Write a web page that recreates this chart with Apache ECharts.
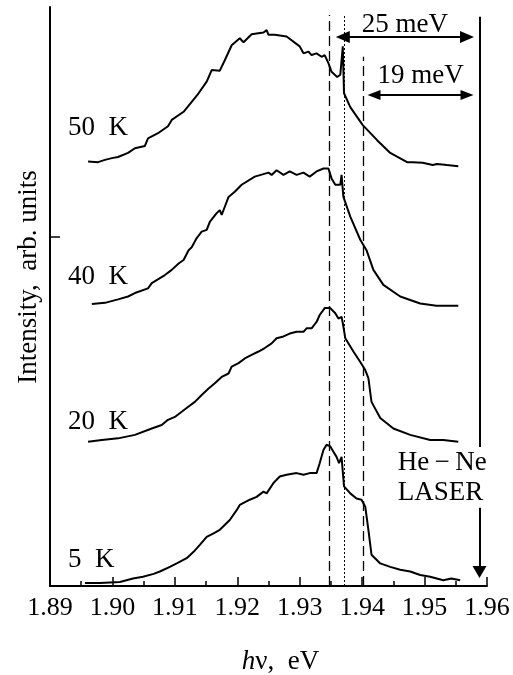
<!DOCTYPE html>
<html>
<head>
<meta charset="utf-8">
<title>PL spectra</title>
<script src="https://cdn.jsdelivr.net/npm/echarts@6/dist/echarts.min.js"></script>
<style>
  html, body { margin: 0; padding: 0; background: #fff; }
  #chart { width: 513px; height: 675px; }
</style>
</head>
<body>
<div id="chart"></div>
<script>
// photon energy (eV), intensity (arb. units, spectra shifted up for clarity)
const spec50K = [
  [1.8961, 73.3], [1.8977, 73.2], [1.8988, 73.6], [1.8999, 73.9], [1.9009, 74.1],
  [1.9025, 74.8], [1.9036, 75.6], [1.9052, 76.0], [1.9057, 77.3], [1.9073, 78.2],
  [1.9089, 79.4], [1.9095, 80.5], [1.9114, 81.9], [1.9127, 83.6], [1.9138, 85.1],
  [1.9151, 87.1], [1.9159, 89.1], [1.9172, 89.0], [1.9180, 90.8], [1.9191, 93.4],
  [1.9204, 94.6], [1.9210, 93.9], [1.9223, 95.3], [1.9242, 95.6], [1.9247, 96.0],
  [1.9250, 95.2], [1.9260, 95.2], [1.9279, 94.9], [1.9300, 93.2], [1.9306, 92.0],
  [1.9314, 92.3], [1.9319, 91.7], [1.9327, 92.0], [1.9335, 91.4], [1.9340, 91.7],
  [1.9346, 90.3], [1.9351, 88.8], [1.9360, 87.9], [1.9365, 88.3], [1.9369, 93.2],
  [1.9371, 85.1], [1.9381, 82.7], [1.9401, 79.6], [1.9424, 77.0], [1.9445, 74.8],
  [1.9472, 73.2], [1.9481, 73.2], [1.9497, 73.1], [1.9513, 72.7], [1.9520, 72.9],
  [1.9536, 72.7], [1.9554, 72.5]
];
const spec40K = [
  [1.8967, 48.7], [1.8988, 48.9], [1.9009, 49.5], [1.9025, 50.0], [1.9036, 50.6],
  [1.9057, 51.4], [1.9063, 52.3], [1.9084, 53.7], [1.9095, 54.6], [1.9106, 55.7],
  [1.9114, 56.3], [1.9122, 58.0], [1.9127, 58.5], [1.9135, 60.1], [1.9143, 61.2],
  [1.9151, 61.5], [1.9156, 62.9], [1.9167, 64.4], [1.9172, 64.9], [1.9175, 64.1],
  [1.9180, 65.5], [1.9186, 67.2], [1.9196, 68.1], [1.9207, 69.3], [1.9228, 70.7],
  [1.9250, 71.4], [1.9255, 71.0], [1.9263, 71.8], [1.9274, 71.0], [1.9284, 71.6],
  [1.9295, 71.0], [1.9306, 71.4], [1.9316, 70.7], [1.9327, 71.6], [1.9338, 72.1],
  [1.9346, 72.1], [1.9351, 70.4], [1.9357, 69.3], [1.9365, 69.3], [1.9367, 71.0],
  [1.9370, 67.2], [1.9381, 63.8], [1.9397, 59.8], [1.9407, 58.0], [1.9418, 54.6],
  [1.9434, 52.0], [1.9461, 50.0], [1.9493, 48.8], [1.9519, 48.4], [1.9554, 48.4]
];
const spec20K = [
  [1.8961, 24.9], [1.8983, 25.2], [1.9009, 25.5], [1.9036, 26.1], [1.9063, 27.2],
  [1.9079, 27.8], [1.9089, 28.7], [1.9100, 29.2], [1.9111, 30.1], [1.9122, 31.0],
  [1.9132, 31.8], [1.9143, 33.0], [1.9154, 34.1], [1.9164, 35.0], [1.9175, 36.1],
  [1.9186, 36.7], [1.9191, 37.9], [1.9202, 38.5], [1.9212, 39.3], [1.9223, 39.9],
  [1.9234, 40.5], [1.9244, 41.1], [1.9255, 41.9], [1.9263, 42.8], [1.9274, 43.1],
  [1.9284, 43.6], [1.9295, 43.9], [1.9306, 43.9], [1.9311, 44.5], [1.9319, 44.5],
  [1.9327, 45.6], [1.9332, 46.8], [1.9340, 48.0], [1.9349, 48.0], [1.9357, 47.1],
  [1.9362, 46.2], [1.9367, 46.5], [1.9369, 45.4], [1.9373, 42.8], [1.9386, 40.5],
  [1.9397, 38.7], [1.9405, 37.3], [1.9410, 35.9], [1.9415, 31.8], [1.9429, 29.0],
  [1.9450, 27.2], [1.9477, 26.1], [1.9509, 25.2], [1.9530, 25.2], [1.9554, 24.9]
];
const spec5K = [
  [1.8956, 0.5], [1.8980, 0.5], [1.9012, 0.7], [1.9033, 1.3], [1.9049, 1.6],
  [1.9066, 2.1], [1.9076, 2.5], [1.9092, 3.3], [1.9103, 3.9], [1.9119, 4.8],
  [1.9130, 5.9], [1.9140, 7.1], [1.9151, 8.5], [1.9162, 9.1], [1.9172, 9.7],
  [1.9188, 11.4], [1.9199, 13.1], [1.9204, 14.0], [1.9220, 14.9], [1.9231, 15.4],
  [1.9242, 16.3], [1.9247, 16.0], [1.9258, 17.8], [1.9268, 18.9], [1.9279, 19.2],
  [1.9295, 19.5], [1.9306, 19.2], [1.9316, 19.5], [1.9327, 19.5], [1.9332, 21.2],
  [1.9338, 23.5], [1.9343, 24.4], [1.9349, 24.1], [1.9354, 23.2], [1.9359, 22.3],
  [1.9363, 21.2], [1.9367, 22.3], [1.9371, 17.2], [1.9381, 16.0], [1.9391, 15.1],
  [1.9399, 14.9], [1.9405, 13.7], [1.9410, 9.7], [1.9415, 5.4], [1.9429, 3.9],
  [1.9445, 3.3], [1.9461, 2.8], [1.9477, 2.5], [1.9493, 1.9], [1.9509, 1.6],
  [1.9530, 1.0], [1.9543, 1.3], [1.9557, 1.0]
];

const tempLabels = ['50  K', '40  K', '20  K', '5  K'];
const dashedLines = [1.9347, 1.9402];
const dottedLine = 1.9371;
const laserEnergy = 1.9588;
const laserLabel = 'He\u2009\u2212\u2009Ne\nLASER';
const gapLabels = ['25 meV', '19 meV'];
const gapStarts = [1.9358, 1.9408];
const gapEnd = 1.9579;

const FONT = '"Liberation Serif", "Times New Roman", serif';
const BLACK = '#000';

const chart = echarts.init(document.getElementById('chart'));

// markLine centres its arrow symbols on the end points, pull them in so the tips land right
const tipPad = 0.0011;

function tempMark(name, x, y) {
  return {
    symbolSize: 0,
    silent: true,
    label: {
      show: true, position: 'right', distance: 0, formatter: '{b}',
      color: BLACK, fontFamily: FONT, fontSize: 27, lineHeight: 30
    },
    data: [{ name: name, coord: [x, y] }]
  };
}

function spectrum(data, mark) {
  return {
    type: 'line',
    data: data,
    showSymbol: false,
    lineStyle: { color: BLACK, width: 2 },
    animation: false,
    markPoint: mark
  };
}

function solid(w) {
  return { color: BLACK, width: w, type: 'solid' };
}

const annotations = {
  silent: true,
  animation: false,
  symbol: 'none',
  label: { show: false },
  data: [
    [{ coord: [dashedLines[0], 0], lineStyle: { color: BLACK, width: 1.3, type: [10, 5] } }, { coord: [dashedLines[0], 98.6] }],
    [{ coord: [dashedLines[1], 0], lineStyle: { color: BLACK, width: 1.3, type: [10, 5] } }, { coord: [dashedLines[1], 91.4] }],
    [{ coord: [dottedLine, 0], lineStyle: { color: BLACK, width: 1, type: [2, 2] } }, { coord: [dottedLine, 98.6] }],
    // laser line, broken by its label
    [{ coord: [laserEnergy, 98.3], lineStyle: solid(2) }, { coord: [laserEnergy, 24.0] }],
    [{ coord: [laserEnergy, 13.5], lineStyle: solid(2) },
     { coord: [laserEnergy, 2.4], symbol: 'triangle', symbolSize: [14, 12] }],
    [{ coord: [gapStarts[0] + tipPad, 94.8], symbol: 'triangle', symbolSize: [12, 14], lineStyle: solid(2),
       label: { show: true, formatter: gapLabels[0], position: 'middle', distance: -1,
                color: BLACK, fontFamily: FONT, fontSize: 27 } },
     { coord: [gapEnd - tipPad, 94.8], symbol: 'triangle', symbolSize: [12, 14] }],
    [{ coord: [gapStarts[1] + tipPad, 84.8], symbol: 'triangle', symbolSize: [10, 13], lineStyle: solid(2),
       label: { show: true, formatter: gapLabels[1], position: 'middle', distance: 6,
                color: BLACK, fontFamily: FONT, fontSize: 27 } },
     { coord: [gapEnd - tipPad, 84.8], symbol: 'triangle', symbolSize: [10, 13] }]
  ]
};

const s5 = spectrum(spec5K, {
  symbolSize: 0, silent: true,
  label: { show: true, position: 'right', distance: 0, formatter: '{b}',
           color: BLACK, fontFamily: FONT, fontSize: 27, lineHeight: 30 },
  data: [
    { name: tempLabels[3], coord: [1.8929, 4.5] },
    { name: laserLabel, coord: [1.9457, 18.6] }
  ]
});
s5.markLine = annotations;

const option = {
  backgroundColor: '#fff',
  animation: false,
  // keep the plot box fixed, names are allowed to sit near the edge
  grid: { left: 50, right: 26, top: 7, bottom: 89, outerBoundsMode: 'none' },
  xAxis: {
    type: 'value',
    min: 1.89,
    max: 1.96,
    interval: 0.01,
    name: '{i|h}\u03bd,  eV',
    nameLocation: 'middle',
    nameGap: 62,
    nameTextStyle: {
      color: BLACK, fontFamily: FONT, fontSize: 27, padding: [0, 0, 0, 24],
      rich: { i: { fontStyle: 'italic', fontFamily: FONT, fontSize: 27, color: BLACK } }
    },
    axisLine: { lineStyle: { color: BLACK, width: 2 } },
    axisTick: { inside: true, length: 9, lineStyle: { color: BLACK, width: 1.5 } },
    minorTick: { show: true, splitNumber: 2, length: 5, lineStyle: { color: BLACK, width: 1.5 } },
    axisLabel: {
      color: BLACK, fontFamily: FONT, fontSize: 26, margin: 9,
      formatter: v => v.toFixed(2)
    },
    splitLine: { show: false }
  },
  yAxis: {
    type: 'value',
    min: 0,
    max: 100,
    name: 'Intensity,  arb. units',
    nameLocation: 'middle',
    nameGap: 8,
    nameTextStyle: { color: BLACK, fontFamily: FONT, fontSize: 27, padding: [0, 0, 0, 39] },
    axisLine: { show: true, lineStyle: { color: BLACK, width: 2 } },
    axisTick: { show: true, inside: true, length: 10, customValues: [60.3], lineStyle: { color: BLACK, width: 1.5 } },
    axisLabel: { show: false },
    splitLine: { show: false }
  },
  series: [
    spectrum(spec50K, tempMark(tempLabels[0], 1.8929, 79.1)),
    spectrum(spec40K, tempMark(tempLabels[1], 1.8929, 53.4)),
    spectrum(spec20K, tempMark(tempLabels[2], 1.8929, 28.3)),
    s5
  ]
};

chart.setOption(option);
</script>
</body>
</html>
